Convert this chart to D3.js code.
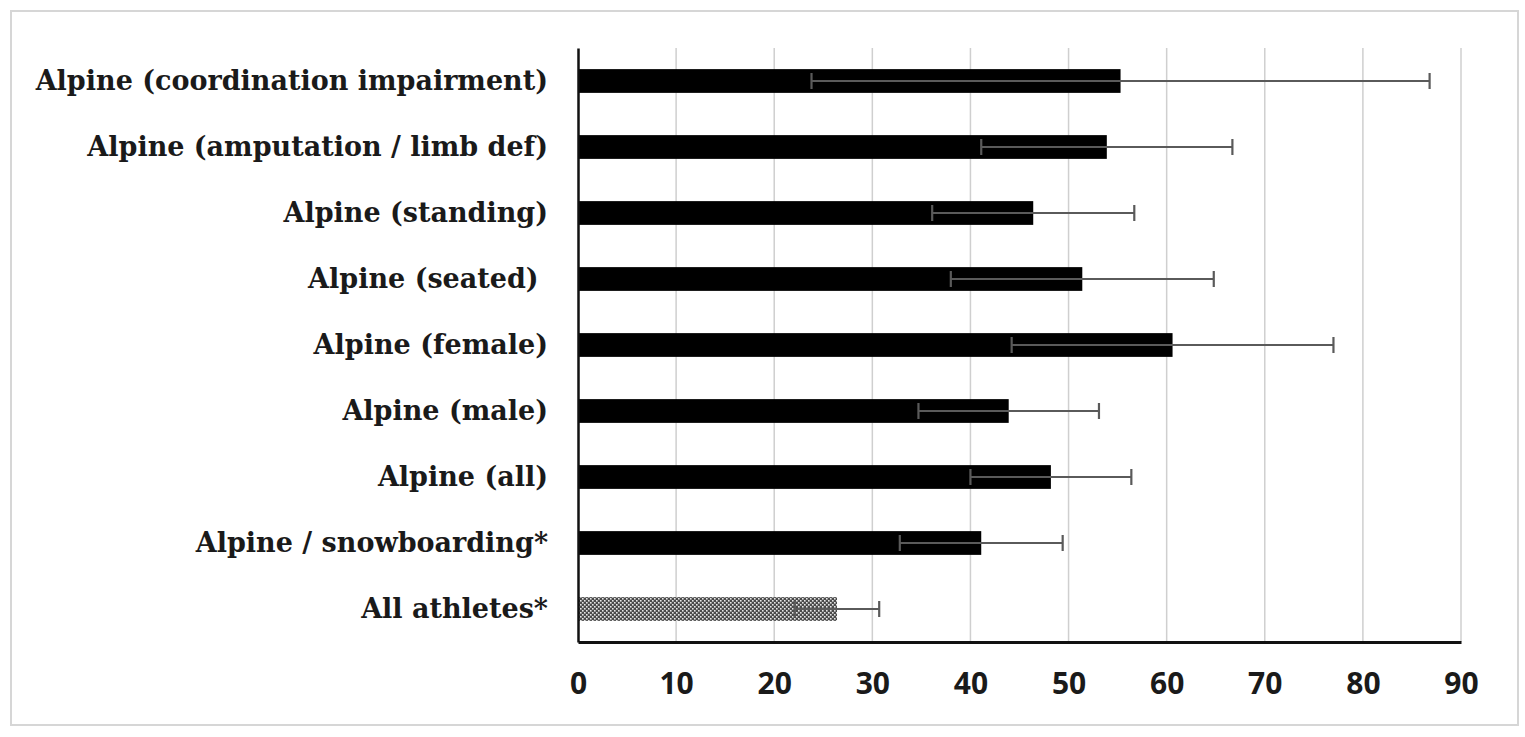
<!DOCTYPE html>
<html>
<head>
<meta charset="utf-8">
<script src="https://cdn.jsdelivr.net/npm/d3@7"></script>
<style>
  body { margin: 0; background: #fff; }
  svg { display: block; }
</style>
</head>
<body>
<svg id="canvas"></svg>
<script>
const categories = [
    'Alpine (coordination impairment)',
    'Alpine (amputation / limb def)',
    'Alpine (standing)',
    'Alpine (seated) ',
    'Alpine (female)',
    'Alpine (male)',
    'Alpine (all)',
    'Alpine / snowboarding*',
    'All athletes*'
];
const means = [55.3, 53.9, 46.4, 51.4, 60.6, 43.9, 48.2, 41.1, 26.4];
const errors = [31.5, 12.8, 10.3, 13.4, 16.4, 9.2, 8.2, 8.3, 4.3];
const xTicks = [0, 10, 20, 30, 40, 50, 60, 70, 80, 90];

const width = 1525;
const height = 737;

const plotLeft = 578;
const plotRight = 1461;
const plotTop = 48;
const plotBottom = 642;

let canvas = d3.select('#canvas')
    .attr('width', width)
    .attr('height', height);

// dotted fill for the last bar
let defs = canvas.append('defs');
let pat = defs.append('pattern')
    .attr('id', 'dots')
    .attr('patternUnits', 'userSpaceOnUse')
    .attr('width', 4)
    .attr('height', 4);
pat.append('rect').attr('width', 4).attr('height', 4).attr('fill', '#4a4a4a');
pat.append('rect').attr('x', 0).attr('y', 0).attr('width', 1.6).attr('height', 1.6).attr('fill', '#e6e6e6');
pat.append('rect').attr('x', 2).attr('y', 2).attr('width', 1.6).attr('height', 1.6).attr('fill', '#e6e6e6');

// outer frame
canvas.append('rect')
    .attr('x', 11)
    .attr('y', 11)
    .attr('width', 1507)
    .attr('height', 714)
    .attr('fill', 'none')
    .attr('stroke', '#d6d6d6')
    .attr('stroke-width', 2);

const xScale = d3.scaleLinear()
    .domain([0, 90])
    .range([plotLeft, plotRight]);

const yScale = d3.scaleBand()
    .domain(categories)
    .range([plotTop, plotBottom])
    .padding(0);

const barH = yScale.bandwidth() * 0.36;

// gridlines
canvas.append('g')
    .selectAll('line')
    .data(xTicks.slice(1))
    .enter()
    .append('line')
    .attr('x1', d => xScale(d))
    .attr('x2', d => xScale(d))
    .attr('y1', plotTop)
    .attr('y2', plotBottom)
    .attr('stroke', '#cfcfcf')
    .attr('stroke-width', 1.5);

// bars
canvas.append('g')
    .selectAll('rect')
    .data(categories)
    .enter()
    .append('rect')
    .attr('x', xScale(0))
    .attr('y', d => yScale(d) + yScale.bandwidth() / 2 - barH / 2)
    .attr('width', (d, i) => xScale(means[i]) - xScale(0))
    .attr('height', barH)
    .attr('fill', (d, i) => i === categories.length - 1 ? 'url(#dots)' : '#000');

// error bars
let err = canvas.append('g')
    .attr('stroke', '#5a5a5a')
    .attr('stroke-width', 2.2)
    .selectAll('g')
    .data(categories)
    .enter()
    .append('g')
    .attr('transform', d => 'translate(0,' + (yScale(d) + yScale.bandwidth() / 2) + ')');

err.append('line')
    .attr('x1', (d, i) => xScale(means[i] - errors[i]))
    .attr('x2', (d, i) => xScale(means[i] + errors[i]))
    .attr('y1', 0)
    .attr('y2', 0);
err.append('line')
    .attr('x1', (d, i) => xScale(means[i] - errors[i]))
    .attr('x2', (d, i) => xScale(means[i] - errors[i]))
    .attr('y1', -8)
    .attr('y2', 8);
err.append('line')
    .attr('x1', (d, i) => xScale(means[i] + errors[i]))
    .attr('x2', (d, i) => xScale(means[i] + errors[i]))
    .attr('y1', -8)
    .attr('y2', 8);

// axes
let xAxis = d3.axisBottom(xScale)
    .tickValues(xTicks)
    .tickSize(0)
    .tickPadding(31)
    .tickFormat(d3.format('d'));

let gx = canvas.append('g')
    .attr('transform', 'translate(0,' + plotBottom + ')')
    .call(xAxis);
gx.select('.domain').attr('stroke', '#111').attr('stroke-width', 3);
gx.selectAll('text')
    .attr('font-family', '"Open Sans", "Liberation Sans", Arial, sans-serif')
    .attr('font-weight', 'bold')
    .attr('font-size', 30)
    .attr('fill', '#1a1a1a');

let yAxis = d3.axisLeft(yScale)
    .tickSize(0)
    .tickPadding(30);

let gy = canvas.append('g')
    .attr('transform', 'translate(' + plotLeft + ',0)')
    .call(yAxis);
gy.select('.domain').attr('stroke', '#111').attr('stroke-width', 2.5);
gy.selectAll('text')
    .attr('font-family', '"DejaVu Serif", "Liberation Serif", serif')
    .attr('font-weight', 'bold')
    .attr('font-size', 27)
    .attr('fill', '#1a1a1a')
    .style('white-space', 'pre');
</script>
</body>
</html>
